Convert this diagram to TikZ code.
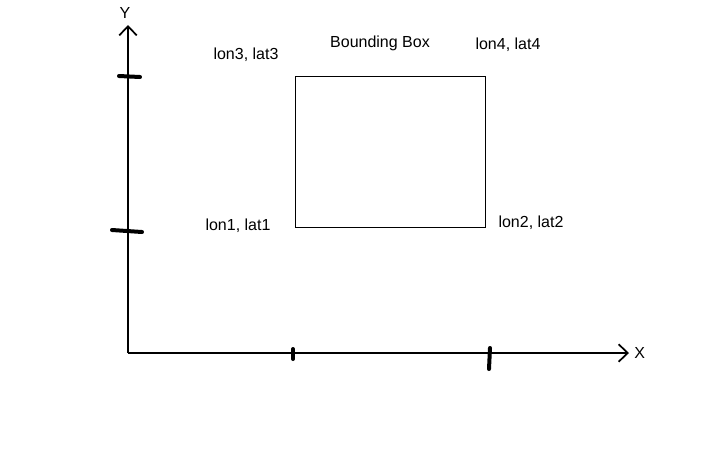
\documentclass[tikz,border=0pt]{standalone}
\usepackage{fontspec}
\setmainfont{Liberation Sans}
\usetikzlibrary{arrows.meta}
\tikzset{
  >={Straight Barb[length=2.4mm,width=4.6mm,line width=1.3pt]},
  axis/.style={->, line width=1.5pt},
  tick/.style={line width=3pt, line cap=round},
  lbl/.style={font=\fontsize{12}{14}\selectfont, inner sep=0pt}
}
\begin{document}
\begin{tikzpicture}[x=0.75pt,y=-0.75pt]
  \useasboundingbox (0,0) rectangle (725,465);
  % axes
  \coordinate (origin) at (128,353);
  \coordinate (xend) at (629,353);
  \coordinate (yend) at (128,25);
  \draw[axis] (origin) -- (xend);
  \draw[axis] (origin) -- (yend);
  \node[lbl,anchor=west] (xlab) at (634,353) {X};
  \node[lbl] (ylab) at (125,13) {Y};

  % ticks
  \draw[tick] (119,76) -- (140,77);
  \draw[tick] (112,230) -- (142,232);
  \draw[tick] (293,349) -- (293,359);
  \draw[tick] (490,348) -- (489,369);

  % bounding box
  \node[draw, line width=1.1pt, minimum width=142.5pt, minimum height=113.25pt,
        inner sep=0pt, anchor=north west] (bbox) at (295,76) {};
  \node[lbl] (title) at (380,43) {Bounding Box};
  \node[lbl] (c3) at (246,55) {lon3, lat3};
  \node[lbl] (c4) at (508,45) {lon4, lat4};
  \node[lbl] (c1) at (238,226) {lon1, lat1};
  \node[lbl] (c2) at (531,223) {lon2, lat2};
\end{tikzpicture}
\end{document}
